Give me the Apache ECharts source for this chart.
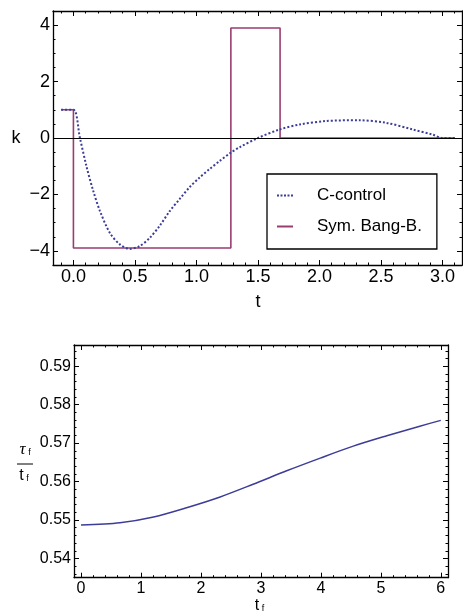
<!DOCTYPE html>
<html><head><meta charset="utf-8">
<script src="https://cdn.jsdelivr.net/npm/echarts@6/dist/echarts.min.js"></script>
<style>html,body{margin:0;padding:0;background:#fff}#c{width:463px;height:614px}</style>
</head><body><div id="c"></div>
<script>
// ---- data ----
const cControlT = [-0.1, 0, 0.053, 0.107, 0.16, 0.215, 0.296, 0.377, 0.458, 0.539, 0.62, 0.70, 0.78, 0.864, 0.945, 1.026, 1.107, 1.19, 1.28, 1.35, 1.50, 1.675, 1.84, 2.05, 2.32, 2.54, 2.76, 2.92, 3.0, 3.1];
const cControlK = [1, 1, 0, -1.02, -1.86, -2.58, -3.36, -3.77, -3.93, -3.83, -3.54, -3.12, -2.61, -2.16, -1.74, -1.40, -1.10, -0.81, -0.52, -0.33, 0, 0.30, 0.48, 0.60, 0.63, 0.54, 0.30, 0.12, 0, 0];
const bangT = [-0.1, 0, 0, 1.28, 1.28, 1.68, 1.68, 3.1];
const bangK = [1, 1, -3.9, -3.9, 3.9, 3.9, 0, 0];
const tfValues = [0, 0.65, 1.21, 1.76, 2.32, 2.87, 3.43, 3.99, 4.54, 5.10, 5.65, 6.0];
const ratioValues = [0.5487, 0.5493, 0.5508, 0.5532, 0.5560, 0.5593, 0.5628, 0.5661, 0.5692, 0.5719, 0.5744, 0.5759];
const topXTicks = [0, 0.5, 1, 1.5, 2, 2.5, 3];
const topYTicks = [-4, -2, 0, 2, 4];
const botXTicks = [0, 1, 2, 3, 4, 5, 6];
const botYTicks = [0.54, 0.55, 0.56, 0.57, 0.58, 0.59];
const seriesNames = ['C-control', 'Sym. Bang-B.'];

const FF = "'Liberation Sans', Arial, Helvetica, sans-serif";
const blue = '#3d3d99', purple = '#993d71';

const rectTop = {left: 53, top: 11, width: 409, height: 254};
const rectBot = {left: 74, top: 345, width: 374, height: 232.7};
const TOPX = [-0.166, 3.159], TOPY = [-4.5, 4.5], BOTX = [-0.117, 6.12], BOTY = [0.535, 0.5955];

// main axes (labels + frame), one x and one y per grid
function ax(grid, pos, range, vals, line, fmt, fs) {
  const a = {
    type: 'value', gridIndex: grid, position: pos, min: range[0], max: range[1],
    splitLine: {show: false},
    axisLine: {show: line, onZero: false, lineStyle: {color: '#000', width: 1.3}},
    axisTick: {show: false},
    axisLabel: {show: false}
  };
  if (fmt) {
    a.axisLabel = {show: true, customValues: vals, margin: 3, fontSize: fs, fontFamily: FF, color: '#000', formatter: fmt};
  }
  return a;
}
const fmtTopX = v => v.toFixed(1);
const fmtTopY = v => v < 0 ? '\u2212' + Math.abs(v) : String(v);
const fmtBotX = v => String(Math.round(v));
const fmtBotY = v => v.toFixed(2);

const gridOf = r => Object.assign({show: false, containLabel: false, outerBoundsMode: 'none'}, r);

const grids = [gridOf(rectTop), gridOf(rectTop), gridOf(rectBot), gridOf(rectBot)];
const xAxes = [
  ax(0, 'bottom', TOPX, topXTicks, true, fmtTopX, 18),
  ax(1, 'top', TOPX, topXTicks, true),
  ax(2, 'bottom', BOTX, botXTicks, true, fmtBotX, 16),
  ax(3, 'top', BOTX, botXTicks, true)
];
const yAxes = [
  ax(0, 'left', TOPY, topYTicks, true, fmtTopY, 18),
  ax(1, 'right', TOPY, topYTicks, true),
  ax(2, 'left', BOTY, botYTicks, true, fmtBotY, 16),
  ax(3, 'right', BOTY, botYTicks, true)
];

// tick marks: thin grids along each frame edge whose split lines act as inward ticks
function pxMap(rect, range, kind) {
  return kind === 'x'
    ? v => rect.left + (v - range[0]) / (range[1] - range[0]) * rect.width
    : v => rect.top + (range[1] - v) / (range[1] - range[0]) * rect.height;
}
function addTicks(kind, rect, range, edge, lo, hi, interval, len) {
  const map = pxMap(rect, range, kind);
  const g = grids.length;
  let gr;
  if (kind === 'x') {
    gr = {left: map(lo), width: map(hi) - map(lo), height: len,
      top: edge === 'bottom' ? rect.top + rect.height - len : rect.top};
  } else {
    gr = {top: map(hi), height: map(lo) - map(hi), width: len,
      left: edge === 'left' ? rect.left : rect.left + rect.width - len};
  }
  grids.push(gridOf(gr));
  const tickAxis = {type: 'value', gridIndex: g, min: lo, max: hi, interval: interval,
    axisLine: {show: false}, axisTick: {show: false}, axisLabel: {show: false},
    splitLine: {show: true, lineStyle: {color: '#000', width: 1}}};
  const dummy = {type: 'value', gridIndex: g, min: 0, max: 1, show: false};
  if (kind === 'x') { xAxes.push(tickAxis); yAxes.push(dummy); }
  else { yAxes.push(tickAxis); xAxes.push(dummy); }
}
['bottom', 'top'].forEach(e => {
  addTicks('x', rectTop, TOPX, e, 0, 3, 0.5, 5);
  addTicks('x', rectTop, TOPX, e, -0.1, 3.1, 0.1, 2.5);
  addTicks('x', rectBot, BOTX, e, 0, 6, 1, 5);
  addTicks('x', rectBot, BOTX, e, 0, 6, 0.2, 2.5);
});
['left', 'right'].forEach(e => {
  addTicks('y', rectTop, TOPY, e, -4, 4, 2, 5);
  addTicks('y', rectTop, TOPY, e, -4.5, 4.5, 0.5, 2.5);
  addTicks('y', rectBot, BOTY, e, 0.54, 0.59, 0.01, 5);
  addTicks('y', rectBot, BOTY, e, 0.536, 0.594, 0.002, 2.5);
});

const dotIcon = 'path://M0,0h2v2h-2zM3.5,0h2v2h-2zM7,0h2v2h-2zM10.5,0h2v2h-2zM14,0h2v2h-2z';
const barIcon = 'path://M0,0h16v2h-16z';

const chart = echarts.init(document.getElementById('c'), null, {renderer: 'canvas'});
chart.setOption({
  animation: false,
  backgroundColor: '#fff',
  grid: grids,
  xAxis: xAxes,
  yAxis: yAxes,
  legend: {
    data: [{name: seriesNames[0], icon: dotIcon}, {name: seriesNames[1], icon: barIcon}],
    orient: 'vertical',
    left: 267, top: 174,
    backgroundColor: '#fff',
    borderColor: '#000', borderWidth: 1.3, borderRadius: 0,
    padding: [13, 15, 14, 10],
    itemWidth: 16, itemHeight: 2, itemGap: 14,
    formatter: name => '{p|}' + name,
    textStyle: {fontSize: 17, lineHeight: 16, fontFamily: FF, color: '#000',
      rich: {p: {width: 19}}}
  },
  series: [
    {
      name: seriesNames[1], type: 'line', xAxisIndex: 0, yAxisIndex: 0,
      data: bangT.map((t, i) => [t, bangK[i]]),
      symbol: 'none', showSymbol: false, z: 2,
      itemStyle: {color: purple},
      lineStyle: {color: purple, width: 1.6},
      markLine: {silent: true, symbol: 'none', label: {show: false},
        lineStyle: {color: '#000', width: 1.2, type: 'solid'},
        data: [{yAxis: 0}]}
    },
    {
      name: seriesNames[0], type: 'line', xAxisIndex: 0, yAxisIndex: 0,
      data: cControlT.map((t, i) => [t, cControlK[i]]),
      symbol: 'none', showSymbol: false, smooth: 0.3, z: 3,
      itemStyle: {color: blue},
      lineStyle: {color: blue, width: 2, type: [2, 2]}
    },
    {
      name: 'ratio', type: 'line', xAxisIndex: 2, yAxisIndex: 2,
      data: tfValues.map((t, i) => [t, ratioValues[i]]),
      symbol: 'none', showSymbol: false, smooth: 0.3,
      itemStyle: {color: blue},
      lineStyle: {color: blue, width: 1.5}
    }
  ],
  graphic: [
    {type: 'text', x: 16, y: 138, style: {text: 'k', fontSize: 18, fontFamily: FF, fill: '#000', align: 'center', verticalAlign: 'middle'}},
    {type: 'text', x: 258, y: 302, style: {text: 't', fontSize: 18, fontFamily: FF, fill: '#000', align: 'center', verticalAlign: 'middle'}},
    {type: 'text', x: 257, y: 606, style: {text: 't', fontSize: 16, fontFamily: FF, fill: '#000', align: 'center', verticalAlign: 'middle'}},
    {type: 'text', x: 263, y: 609, style: {text: 'f', fontSize: 9, fontFamily: FF, fill: '#000', align: 'center', verticalAlign: 'middle'}},
    {type: 'text', x: 22.5, y: 450, style: {text: '\u03c4', fontSize: 17, fontStyle: 'italic', fontFamily: "'Liberation Serif', 'DejaVu Serif', serif", fill: '#000', align: 'center', verticalAlign: 'middle'}},
    {type: 'text', x: 29.5, y: 453, style: {text: 'f', fontSize: 9, fontFamily: FF, fill: '#000', align: 'center', verticalAlign: 'middle'}},
    {type: 'line', shape: {x1: 17, y1: 464, x2: 33, y2: 464}, style: {stroke: '#000', lineWidth: 1}},
    {type: 'text', x: 21.5, y: 476, style: {text: 't', fontSize: 16, fontFamily: FF, fill: '#000', align: 'center', verticalAlign: 'middle'}},
    {type: 'text', x: 27.5, y: 479, style: {text: 'f', fontSize: 9, fontFamily: FF, fill: '#000', align: 'center', verticalAlign: 'middle'}}
  ]
});
</script>
</body></html>
